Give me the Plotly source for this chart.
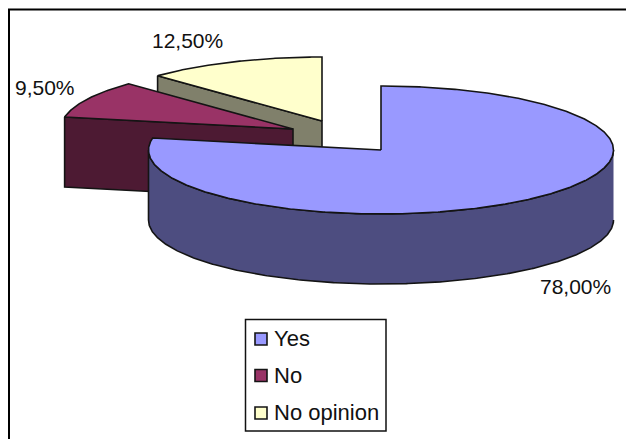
import numpy as np
import plotly.graph_objects as go

categories = ["Yes", "No", "No opinion"]
values = [78.0, 9.5, 12.5]
value_labels = ["78,00%", "9,50%", "12,50%"]
top_colors = ["#9999FF", "#993366", "#FFFFCC"]
side_colors = ["#4D4D80", "#4D1A33", "#80806B"]

W, H = 626, 439
RX, RY, DEPTH = 232.5, 64, 70
apexes = [(381, 150), (293, 129), (322, 121)]
label_pos = [(575, 286), (45, 87), (187, 40)]
legend_box = (245.5, 319.5, 386, 431)
legend_rows = [339, 375.5, 413]
FONT = "Liberation Sans, Arial, sans-serif"
EDGE = "#141414"

# start angles (clockwise from 12 o'clock) accumulated from the values
ends = np.cumsum(values) * 3.6
starts = np.concatenate([[0], ends[:-1]])


def rim(i, a0, a1):
    cx, cy = apexes[i]
    t = np.radians(np.linspace(a0, a1, max(2, int(abs(a1 - a0)) * 2)))
    return cx + RX * np.sin(t), cy - RY * np.cos(t)


def poly(xs, ys, color):
    return go.Scatter(x=xs, y=ys, mode="lines", fill="toself", fillcolor=color,
                      line=dict(color=EDGE, width=1.6), hoverinfo="skip", showlegend=False)


fig = go.Figure()
for i in [2, 1, 0]:
    cx, cy = apexes[i]
    a0, a1 = starts[i], ends[i]
    if i == 0:
        x, y = rim(i, 90, 270)
        fig.add_trace(poly(np.r_[x, x[::-1]], np.r_[y, y[::-1] + DEPTH], side_colors[i]))
    else:
        # cut face at the slice's leading edge
        x, y = rim(i, a0, a0)
        ex, ey = x[0], y[0]
        fig.add_trace(poly([ex, cx, cx, ex, ex],
                           [ey, cy, cy + DEPTH, ey + DEPTH, ey], side_colors[i]))
    x, y = rim(i, a0, a1)
    fig.add_trace(poly(np.r_[cx, x, cx], np.r_[cy, y, cy], top_colors[i]))

for i, name in enumerate(categories):
    fig.add_trace(go.Scatter(
        x=[261], y=[legend_rows[i]], mode="markers",
        marker=dict(symbol="square", size=12, color=top_colors[i],
                    line=dict(color=EDGE, width=1.6)),
        name=name, showlegend=False, hoverinfo="name"))
    fig.add_trace(go.Scatter(
        x=[274], y=[legend_rows[i] + 1.5], mode="text", text=[name],
        textposition="middle right",
        textfont=dict(family=FONT, size=22, color="#111111"),
        showlegend=False, hoverinfo="skip"))

for (px, py), label in zip(label_pos, value_labels):
    fig.add_annotation(x=px, y=py, text=label, showarrow=False,
                       font=dict(family=FONT, size=21, color="#111111"),
                       xanchor="center", yanchor="middle")

x0, y0, x1, y1 = legend_box
fig.add_shape(type="rect", x0=x0, y0=y0, x1=x1, y1=y1, line=dict(color="#111111", width=1.5),
              layer="below")
fig.add_shape(type="line", x0=9, y0=H, x1=9, y1=9.5, line=dict(color="black", width=2))
fig.add_shape(type="line", x0=8, y0=9.5, x1=W, y1=9.5, line=dict(color="black", width=2))

fig.update_layout(
    width=W, height=H, margin=dict(l=0, r=0, t=0, b=0),
    paper_bgcolor="white", plot_bgcolor="white", showlegend=False,
    xaxis=dict(range=[0, W], visible=False, fixedrange=True),
    yaxis=dict(range=[H, 0], visible=False, fixedrange=True),
)
fig.write_html("out.html", config={"displayModeBar": False},
               post_script="document.body.style.margin='0';document.documentElement.style.overflow='hidden';")
